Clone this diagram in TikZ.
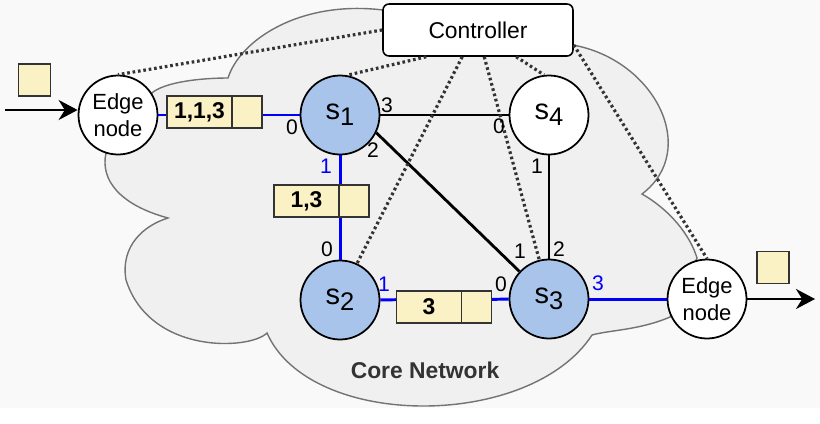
\documentclass[tikz,border=0pt]{standalone}
\usepackage{fontspec}
\setmainfont{Liberation Sans}
\usetikzlibrary{arrows.meta,backgrounds,positioning}
\definecolor{swblue}{RGB}{169,196,235}
\definecolor{hdryellow}{RGB}{250,242,197}
\definecolor{bggray}{RGB}{249,249,249}
\definecolor{cloudgray}{RGB}{240,240,240}
\definecolor{flowblue}{RGB}{0,0,250}
\newcommand{\sw}[1]{{\fontsize{16.5}{16.5}\selectfont s\raisebox{-3.4pt}{\fontsize{14.5}{14.5}\selectfont #1}}}

\begin{document}
\begin{tikzpicture}
[x=0.02cm,y=-0.02cm,
switch/.style={circle,draw=black,fill=swblue,line width=1pt,inner sep=0pt,minimum size=1.58cm},
edgenode/.style={circle,draw=black,fill=white,line width=1pt,inner sep=0pt,minimum size=1.58cm,align=center,font=\fontsize{12.5}{15}\selectfont},
ctrlbox/.style={rectangle,rounded corners=0.12cm,draw=black,fill=white,line width=0.9pt,minimum width=3.8cm,minimum height=1.04cm,font=\fontsize{13}{13}\selectfont},
hdr/.style={rectangle,draw=black!80,fill=hdryellow,line width=0.8pt,outer sep=0pt,minimum width=1.3cm,minimum height=0.64cm,inner sep=0pt,font=\bfseries\fontsize{13}{13}\selectfont},
tail/.style={rectangle,draw=black!80,fill=hdryellow,line width=0.8pt,outer sep=0pt,minimum width=0.6cm,minimum height=0.64cm,inner sep=0pt},
packet/.style={rectangle,draw=black!80,fill=hdryellow,line width=0.8pt,minimum width=0.64cm,minimum height=0.64cm,inner sep=0pt},
portlbl/.style={inner sep=0pt,font=\fontsize{12}{12}\selectfont},
link/.style={draw=black,line width=1.6pt},
flow/.style={draw=flowblue,line width=1.7pt},
ctl/.style={draw=black!80,line width=1.8pt,dash pattern=on 1.5pt off 1.6pt},
arrow/.style={line width=1.5pt,-{Stealth[length=0.38cm,width=0.4cm]}}]
\useasboundingbox (0,0) rectangle (820,423);

\node[edgenode] (e1) at (118,115) {Edge\\node};
\node[switch] (s1) at (340,115) {\sw{1}};
\node[edgenode,fill=white] (s4) at (549,115) {\sw{4}};
\node[switch] (s2) at (340,300) {\sw{2}};
\node[switch] (s3) at (549,299) {\sw{3}};
\node[edgenode] (e2) at (707,299) {Edge\\node};
\node[ctrlbox] (ctrl) at (478,30) {Controller};

\node[packet] (pk1) at (34.5,80) {};
\node[packet] (pk2) at (773,267.5) {};
\coordinate (in) at (5,110);
\coordinate (out) at (815,299);

\draw [arrow] (in) -- (in -| e1.west);
\draw [arrow] (e2) -- (out);

\draw [flow] (e1) -- (s1);
\draw [link] (s1) -- (s4);
\draw [link] (s1.-26) -- (s3.137);
\draw [link] (s4) -- (s3);
\draw [flow] (s1) -- (s2);
\draw [flow] (s2) -- (s3);
\draw [flow] (s3) -- (e2);

\draw [ctl] (ctrl.west) -- (e1.north);
\draw [ctl] ([xshift=0.88cm]ctrl.south west) -- (s1.80);
\draw [ctl] ([xshift=1.6cm]ctrl.south west) -- (s2.65);
\draw [ctl] ([xshift=2.04cm]ctrl.south west) -- (s3.104);
\draw [ctl] ([xshift=2.68cm]ctrl.south west) -- (s4.97);
\draw [ctl] ([yshift=-0.3cm]ctrl.east) -- (e2.north);

\node[hdr] (h1) at (199.5,112) {1,1,3};
\node[tail, right=0pt of h1] (t1) {};
\node[hdr] (h2) at (306.5,201) {1,3};
\node[tail, right=0pt of h2] (t2) {};
\node[hdr] (h3) at (429,307) {3};
\node[tail, right=0pt of h3] (t3) {};

\node[portlbl] (p10) at (292,127) {0};
\node[portlbl,text=flowblue] (p11) at (326,166) {1};
\node[portlbl] (p12) at (373,150) {2};
\node[portlbl] (p13) at (387,105) {3};
\node[portlbl] (p40) at (499,126) {0};
\node[portlbl] (p41) at (537,166) {1};
\node[portlbl] (p20) at (327,249) {0};
\node[portlbl,text=flowblue] (p21) at (384,284) {1};
\node[portlbl] (p30) at (501,284) {0};
\node[portlbl] (p31) at (520,251) {1};
\node[portlbl] (p32) at (559,249) {2};
\node[portlbl,text=flowblue] (p33) at (598,283) {3};

\node[font=\bfseries\fontsize{13}{13}\selectfont,text=black!80] (core) at (425,370) {Core Network};

\begin{scope}[on background layer]
\fill[bggray] (0,0) rectangle (820,408);
\draw[black!55,line width=0.8pt,fill=cloudgray] (153,92)
  .. controls (170,80) and (210,78) .. (228,78)
  .. controls (240,40) and (300,0) .. (383,10)
  -- (573,45)
  .. controls (655,60) and (700,150) .. (642,194)
  .. controls (670,210) and (690,235) .. (697,258)
  -- (670,317)
  .. controls (640,330) and (610,330) .. (592,335)
  .. controls (530,430) and (310,430) .. (267,333)
  .. controls (250,350) and (150,355) .. (126,280)
  .. controls (120,245) and (145,225) .. (168,218)
  .. controls (120,205) and (100,180) .. (106,153)
  -- cycle;
\end{scope}
\end{tikzpicture}
\end{document}
